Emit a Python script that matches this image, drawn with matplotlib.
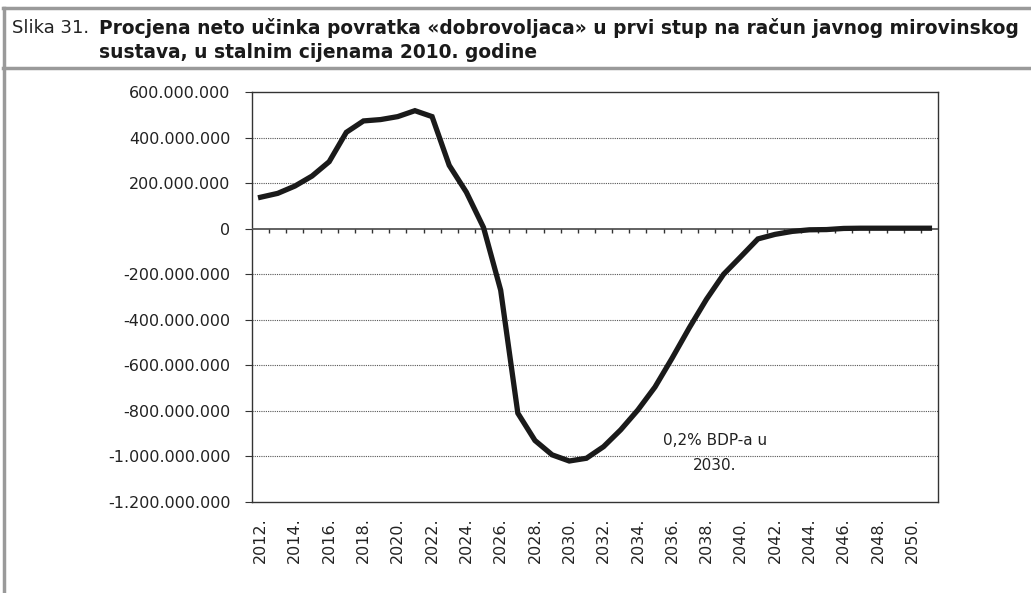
import matplotlib.pyplot as plt
import numpy as np
from matplotlib.lines import Line2D

# data: neto ucinak po godinama (kn, stalne cijene 2010.)
years = list(range(2012, 2052))
values = [138e6, 155e6, 187e6, 231e6, 294e6, 423e6, 473e6, 479e6, 492e6, 518e6,
          492e6, 278e6, 160e6, 5e6, -270e6, -810e6, -930e6, -993e6, -1020e6, -1008e6,
          -957e6, -883e6, -796e6, -695e6, -568e6, -435e6, -310e6, -200e6, -123e6, -45e6,
          -25e6, -12e6, -5e6, -4e6, 1e6, 2e6, 2e6, 2e6, 2e6, 2e6]
yticks = [600e6, 400e6, 200e6, 0, -200e6, -400e6, -600e6, -800e6, -1000e6, -1200e6]
title_num = "Slika 31."
title_txt = "Procjena neto učinka povratka «dobrovoljaca» u prvi stup na račun javnog mirovinskog\nsustava, u stalnim cijenama 2010. godine"
note = "0,2% BDP-a u\n2030."


def fmt(v):
    s = "{:,.0f}".format(abs(v)).replace(",", ".")
    return ("-" + s) if v < 0 else s


W, H = 1031, 593
fig = plt.figure(figsize=(W / 100, H / 100), dpi=100)
ax = fig.add_axes([252 / W, 1 - 502 / H, (938 - 252) / W, (502 - 92) / H])

x = np.arange(len(years))
ax.plot(x, values, color="#1a1a1a", lw=3.8, solid_joinstyle="miter", zorder=4)

ax.set_xlim(-0.5, len(years) - 0.5)
ax.set_ylim(yticks[-1], yticks[0])
ax.set_yticks(yticks)
ax.set_yticklabels([fmt(v) for v in yticks])
for v in yticks[1:-1]:
    if v == 0:
        ax.axhline(v, color="#555555", lw=1.3, zorder=3)
    else:
        ax.axhline(v, color="#555555", lw=0.8, ls=(0, (1, 1)), zorder=1)

# ticks on the zero line, between categories
ax.vlines(x[:-1] + 0.5, 0, -0.2e8, color="#333333", lw=1.0, zorder=3)

ax.set_xticks(x[::2])
ax.set_xticklabels([f"{y}." for y in years[::2]], rotation=90)
ax.tick_params(axis="x", length=0, pad=11, labelsize=11.5, colors="#222222")
ax.tick_params(axis="y", length=5, direction="out", pad=10.5, labelsize=11.5,
               colors="#333333", labelcolor="#222222")
for s in ax.spines.values():
    s.set_color("#333333")
    s.set_linewidth(1.0)

ax.text(x[years.index(2030)] + 8.5, -985e6, note, ha="center", va="center",
        fontsize=11, color="#222222", linespacing=1.85)

# title box
fig.text(12 / W, 1 - 28 / H, title_num, fontsize=13, va="center", color="#222222")
fig.text(99 / W, 1 - 40 / H, title_txt, fontsize=13.4, fontweight="bold", va="center",
         color="#1a1a1a", linespacing=1.28)
for l in [Line2D([3 / W, 1], [1 - 8 / H] * 2), Line2D([3 / W, 1], [1 - 68 / H] * 2),
          Line2D([4 / W] * 2, [1 - 8 / H, 0])]:
    l.set_color("#9a9a9a")
    l.set_linewidth(2.5)
    l.set_transform(fig.transFigure)
    fig.add_artist(l)

fig.savefig("out.png", dpi=100)
